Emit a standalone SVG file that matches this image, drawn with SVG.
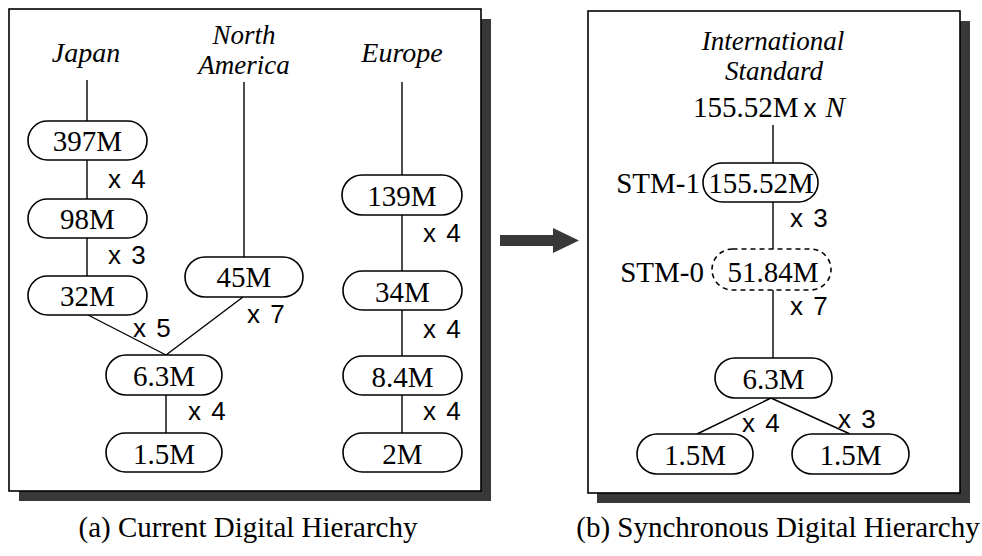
<svg xmlns="http://www.w3.org/2000/svg" width="982" height="556" viewBox="0 0 982 556">
  <style>
    .frame { fill: #ffffff; stroke: #000000; stroke-width: 1.6; }
    .shadow { fill: #383838; }
    .node { fill: #ffffff; stroke: #000000; stroke-width: 1.6; }
    .dashed { fill: #ffffff; stroke: #000000; stroke-width: 1.6; stroke-dasharray: 5 4; }
    .edge { stroke: #000000; stroke-width: 1.4; fill: none; }
    .lbl { font-family: "Liberation Serif", "Times New Roman", serif; font-size: 29px; fill: #000000; }
    .mid { text-anchor: middle; }
    .ital { font-family: "Liberation Serif", "Times New Roman", serif; font-size: 28px; font-style: italic; fill: #000000; text-anchor: middle; }
    .ital2 { font-size: 27px; }
    .mul { font-family: "Liberation Sans", Arial, sans-serif; font-size: 26px; fill: #000000; word-spacing: 3px; }
    .cap { font-family: "Liberation Serif", "Times New Roman", serif; font-size: 29px; fill: #000000; text-anchor: middle; }
  </style>

  <!-- panel frames with drop shadows -->
  <g id="panel-a">
    <path class="shadow" d="M481,19 H491 V501 H19 V491 H481 Z"/>
    <rect class="frame" x="9" y="9" width="472" height="482"/>
  </g>
  <g id="panel-b">
    <path class="shadow" d="M960,21 H970 V503 H597 V493 H960 Z"/>
    <rect class="frame" x="588" y="11" width="372" height="482"/>
  </g>

  <!-- transition arrow between panels -->
  <g id="transition-arrow">
    <rect class="shadow" x="500" y="235" width="54" height="11"/>
    <polygon class="shadow" points="553,228 579,240.5 553,253"/>
  </g>

  <!-- connectors -->
  <g id="connectors">
    <line class="edge" x1="87" y1="80" x2="87" y2="121"/>
    <line class="edge" x1="87" y1="160" x2="87" y2="199"/>
    <line class="edge" x1="87" y1="238" x2="87" y2="276"/>
    <line class="edge" x1="88" y1="315" x2="166" y2="355"/>
    <line class="edge" x1="243" y1="297" x2="166" y2="355"/>
    <line class="edge" x1="166" y1="395" x2="166" y2="433"/>
    <line class="edge" x1="244" y1="82" x2="244" y2="257"/>
    <line class="edge" x1="402" y1="82" x2="402" y2="175"/>
    <line class="edge" x1="402" y1="215" x2="402" y2="271"/>
    <line class="edge" x1="402" y1="310" x2="402" y2="356"/>
    <line class="edge" x1="402" y1="395" x2="402" y2="433"/>
    <line class="edge" x1="773" y1="125" x2="773" y2="163"/>
    <line class="edge" x1="773" y1="202" x2="773" y2="249"/>
    <line class="edge" x1="773" y1="290" x2="773" y2="358"/>
    <line class="edge" x1="771" y1="398" x2="697" y2="434"/>
    <line class="edge" x1="771" y1="398" x2="850" y2="434"/>
  </g>

  <!-- column headings -->
  <g id="headings">
    <text class="ital" x="86" y="62">Japan</text>
    <text class="ital ital2"><tspan x="244" y="44">North</tspan><tspan x="244" y="74">America</tspan></text>
    <text class="ital" x="402" y="62">Europe</text>
    <text class="ital ital2"><tspan x="773" y="50">International</tspan><tspan x="774" y="80">Standard</tspan></text>
    <text class="lbl" x="693" y="117">155.52M<tspan class="mul" dx="5">x</tspan><tspan font-style="italic" dx="9">N</tspan></text>
  </g>

  <!-- current digital hierarchy nodes -->
  <g id="n-397m"><rect class="node" x="28" y="121" width="119" height="39" rx="19.5"/><text class="lbl mid" x="87.5" y="151">397M</text></g>
  <g id="n-98m"><rect class="node" x="28" y="199" width="119" height="39" rx="19.5"/><text class="lbl mid" x="87.5" y="229">98M</text></g>
  <g id="n-32m"><rect class="node" x="28" y="276" width="119" height="39" rx="19.5"/><text class="lbl mid" x="87.5" y="306">32M</text></g>
  <g id="n-45m"><rect class="node" x="185" y="257" width="118" height="40" rx="20"/><text class="lbl mid" x="244" y="287">45M</text></g>
  <g id="n-6.3m-a"><rect class="node" x="106" y="355" width="116" height="40" rx="20"/><text class="lbl mid" x="164" y="386">6.3M</text></g>
  <g id="n-1.5m-a"><rect class="node" x="106" y="433" width="116" height="39" rx="19.5"/><text class="lbl mid" x="164" y="464">1.5M</text></g>
  <g id="n-139m"><rect class="node" x="342" y="175" width="120" height="40" rx="20"/><text class="lbl mid" x="402" y="206">139M</text></g>
  <g id="n-34m"><rect class="node" x="343" y="271" width="119" height="39" rx="19.5"/><text class="lbl mid" x="402.5" y="302">34M</text></g>
  <g id="n-8.4m"><rect class="node" x="343" y="356" width="119" height="39" rx="19.5"/><text class="lbl mid" x="402.5" y="387">8.4M</text></g>
  <g id="n-2m"><rect class="node" x="343" y="433" width="119" height="39" rx="19.5"/><text class="lbl mid" x="402.5" y="464">2M</text></g>

  <!-- synchronous digital hierarchy nodes -->
  <g id="n-stm1"><rect class="node" x="703" y="163" width="115" height="39" rx="19.5"/><text class="lbl mid" x="761" y="193">155.52M</text><text class="lbl" x="700" y="193" text-anchor="end">STM-1</text></g>
  <g id="n-stm0"><rect class="dashed" x="712" y="249" width="119" height="41" rx="20.5"/><text class="lbl mid" x="773" y="282">51.84M</text><text class="lbl" x="704" y="282" text-anchor="end">STM-0</text></g>
  <g id="n-6.3m-b"><rect class="node" x="715" y="358" width="117" height="40" rx="20"/><text class="lbl mid" x="773.5" y="389">6.3M</text></g>
  <g id="n-1.5m-b1"><rect class="node" x="637" y="434" width="116" height="40" rx="20"/><text class="lbl mid" x="695" y="465">1.5M</text></g>
  <g id="n-1.5m-b2"><rect class="node" x="792" y="434" width="117" height="40" rx="20"/><text class="lbl mid" x="850.5" y="465">1.5M</text></g>

  <!-- multiplexing factors -->
  <g id="factors">
    <text class="mul" x="108" y="188">x 4</text>
    <text class="mul" x="108" y="264">x 3</text>
    <text class="mul" x="133" y="337">x 5</text>
    <text class="mul" x="247" y="323">x 7</text>
    <text class="mul" x="188" y="420">x 4</text>
    <text class="mul" x="423" y="242">x 4</text>
    <text class="mul" x="423" y="338">x 4</text>
    <text class="mul" x="423" y="420">x 4</text>
    <text class="mul" x="790" y="227">x 3</text>
    <text class="mul" x="790" y="315">x 7</text>
    <text class="mul" x="742" y="432">x 4</text>
    <text class="mul" x="838" y="428">x 3</text>
  </g>

  <!-- captions -->
  <g id="captions">
    <text class="cap" x="248" y="537">(a) Current Digital Hierarchy</text>
    <text class="cap" x="778" y="537">(b) Synchronous Digital Hierarchy</text>
  </g>
</svg>
